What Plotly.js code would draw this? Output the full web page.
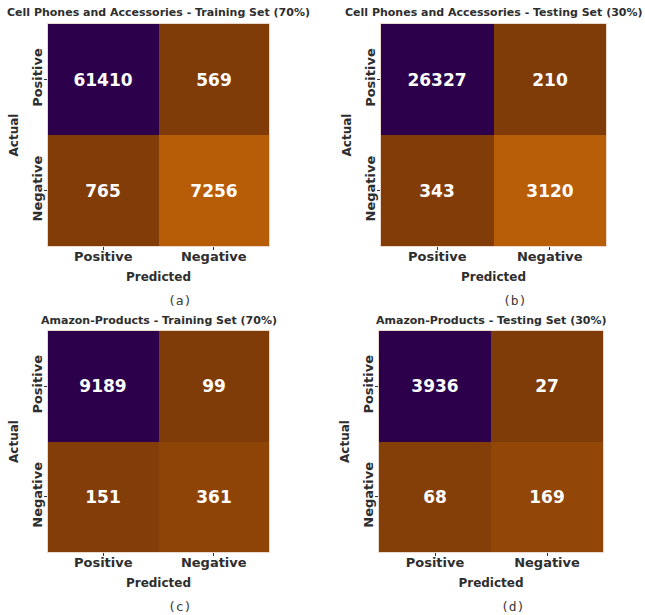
<!DOCTYPE html>
<html>
<head>
<meta charset="utf-8">
<script src="https://cdn.plot.ly/plotly-3.0.1.min.js"></script>
<style>html,body{margin:0;padding:0;background:#fff;}#chart{width:645px;height:615px;}</style>
</head>
<body>
<div id="chart"></div>
<script>
const predictedLabels = ["Positive", "Negative"];
const actualLabels = ["Positive", "Negative"];

const titles = [
  "Cell Phones and Accessories - Training Set (70%)",
  "Cell Phones and Accessories - Testing Set (30%)",
  "Amazon-Products - Training Set (70%)",
  "Amazon-Products - Testing Set (30%)"
];
const panelLetters = ["(a)", "(b)", "(c)", "(d)"];

const cellTrain = [[61410, 569], [765, 7256]];
const cellTest = [[26327, 210], [343, 3120]];
const amazonTrain = [[9189, 99], [151, 361]];
const amazonTest = [[3936, 27], [68, 169]];
const matrices = [cellTrain, cellTest, amazonTrain, amazonTest];

const PuOr = [
  [0.0, "#7f3b08"], [0.1, "#b35806"], [0.2, "#e08214"], [0.3, "#fdb863"],
  [0.4, "#fee0b6"], [0.5, "#f7f7f7"], [0.6, "#d8daeb"], [0.7, "#b2abd2"],
  [0.8, "#8073ac"], [0.9, "#542788"], [1.0, "#2d004b"]
];

const W = 645, H = 615;
// panel boxes in pixels [left, right, top, bottom]
const boxes = [
  [48, 269, 24, 246],
  [381, 606, 24, 246],
  [48, 269, 331, 552],
  [379, 603, 331, 552]
];
const FONT = "DejaVu Sans, sans-serif";
const TXT = "#2e2e2e";

const data = [];
const layout = {
  width: W, height: H,
  margin: {l: 0, r: 0, t: 0, b: 0},
  paper_bgcolor: "#ffffff",
  plot_bgcolor: "#ffffff",
  showlegend: false,
  font: {family: FONT, color: TXT},
  annotations: []
};

matrices.forEach((z, i) => {
  const n = i === 0 ? "" : String(i + 1);
  const b = boxes[i];
  data.push({
    type: "heatmap",
    z: z,
    x: predictedLabels,
    y: actualLabels,
    xaxis: "x" + n,
    yaxis: "y" + n,
    colorscale: PuOr,
    showscale: false,
    texttemplate: "%{z:d}",
    textfont: {family: FONT, size: 17, color: "#ffffff", weight: "bold"},
    hoverinfo: "skip"
  });
  layout["xaxis" + n] = {
    domain: [b[0] / W, b[1] / W],
    anchor: "y" + n,
    ticks: "outside", ticklen: 3, tickcolor: TXT, tickwidth: 1,
    ticklabelstandoff: -5,
    tickfont: {family: FONT, size: 13, color: TXT, weight: "bold"},
    showgrid: false, zeroline: false,
    showline: true, linecolor: "#ecd9cc", linewidth: 1, mirror: true,
    title: {text: "Predicted", font: {family: FONT, size: 12, color: TXT, weight: "bold"}, standoff: 10},
    fixedrange: true
  };
  layout["yaxis" + n] = {
    domain: [1 - b[3] / H, 1 - b[2] / H],
    anchor: "x" + n,
    autorange: "reversed",
    ticks: "outside", ticklen: 3, tickcolor: TXT, tickwidth: 1,
    tickangle: -90,
    ticklabelstandoff: -3,
    tickfont: {family: FONT, size: 13, color: TXT, weight: "bold"},
    showgrid: false, zeroline: false,
    showline: true, linecolor: "#ecd9cc", linewidth: 1, mirror: true,
    title: {text: "Actual", font: {family: FONT, size: 12, color: TXT, weight: "bold"}, standoff: 8},
    fixedrange: true
  };
  layout.annotations.push({
    text: titles[i],
    xref: "paper", yref: "paper",
    x: (b[0] + b[1]) / 2 / W, y: 1 - (b[2] - 11) / H,
    xanchor: "center", yanchor: "middle",
    showarrow: false,
    font: {family: FONT, size: 11, color: TXT, weight: "bold"}
  });
  layout.annotations.push({
    text: panelLetters[i],
    xref: "paper", yref: "paper",
    x: ((b[0] + b[1]) / 2 + 21) / W, y: 1 - (b[3] + 54) / H,
    xanchor: "center", yanchor: "middle",
    showarrow: false,
    font: {family: "DejaVu Sans Mono, monospace", size: 13, color: "#3a3a3a"}
  });
});

Plotly.newPlot("chart", data, layout, {displayModeBar: false, staticPlot: true});
</script>
</body>
</html>
